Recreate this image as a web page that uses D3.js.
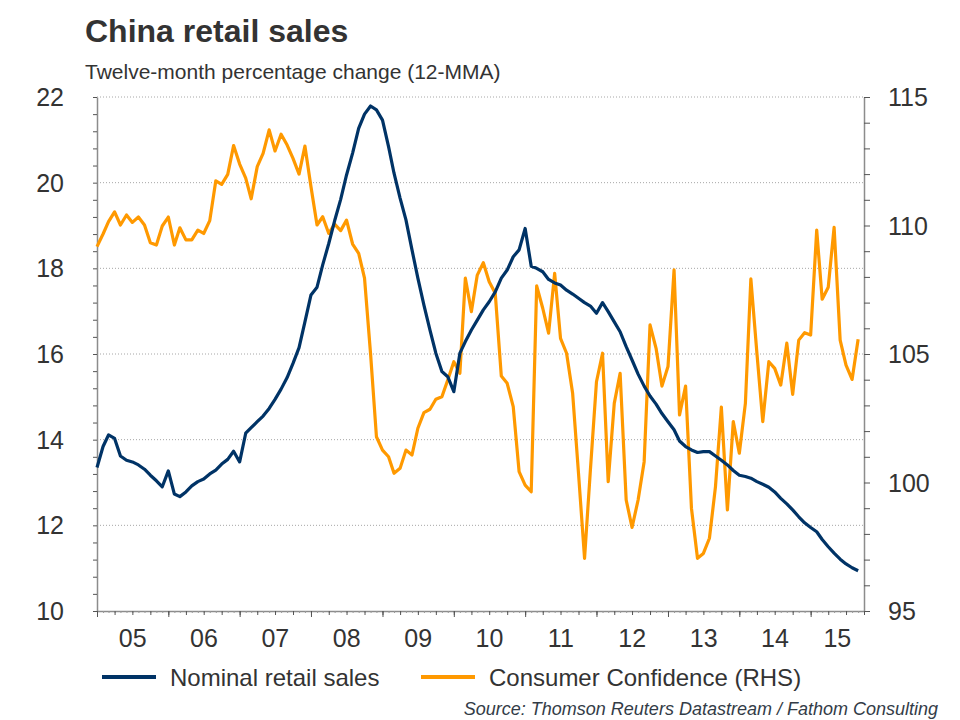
<!DOCTYPE html>
<html>
<head>
<meta charset="utf-8">
<script src="https://cdn.jsdelivr.net/npm/d3@7"></script>
<style>
  body { margin: 0; background: #fff; }
  svg { font-family: "Liberation Sans", Arial, sans-serif; }
</style>
</head>
<body>
<svg id="chart" width="960" height="720"></svg>
<script>
// monthly, Jan 2005 - Sep 2015
var retailSales = [
  13.35, 13.84, 14.11, 14.03, 13.62, 13.52, 13.48, 13.41, 13.31, 13.17, 13.04, 12.90,
  13.27, 12.73, 12.67, 12.78, 12.92, 13.02, 13.08, 13.20, 13.29, 13.43, 13.54, 13.73,
  13.48, 14.15, 14.28, 14.42, 14.55, 14.73, 14.94, 15.18, 15.45, 15.78, 16.15, 16.75,
  17.38, 17.56, 18.08, 18.58, 19.11, 19.61, 20.18, 20.69, 21.27, 21.60, 21.79, 21.70,
  21.46, 20.84, 20.22, 19.64, 19.13, 18.43, 17.77, 17.14, 16.56, 16.02, 15.59, 15.47,
  15.12, 16.02, 16.29, 16.56, 16.79, 17.03, 17.22, 17.45, 17.77, 17.96, 18.27, 18.43,
  18.93, 18.05, 18.00, 17.92, 17.74, 17.66, 17.61, 17.49, 17.40, 17.30, 17.20, 17.12,
  16.95, 17.20, 16.99, 16.75, 16.52, 16.17, 15.86, 15.53, 15.25, 15.02, 14.83, 14.61,
  14.42, 14.23, 13.97, 13.84, 13.76, 13.70, 13.72, 13.72, 13.62, 13.52, 13.41, 13.28,
  13.17, 13.14, 13.10, 13.02, 12.96, 12.89, 12.78, 12.63, 12.50, 12.36, 12.20, 12.06,
  11.95, 11.85, 11.67, 11.50, 11.35, 11.21, 11.10, 11.01, 10.94
];

var confidence = [
  109.18, 109.67, 110.15, 110.53, 110.02, 110.41, 110.12, 110.33, 110.02, 109.33, 109.24, 109.98,
  110.33, 109.24, 109.91, 109.44, 109.44, 109.82, 109.69, 110.19, 111.74, 111.60, 111.99, 113.11,
  112.39, 111.84, 111.04, 112.29, 112.81, 113.72, 112.90, 113.55, 113.13, 112.61, 112.00, 113.09,
  111.51, 110.02, 110.34, 109.69, 110.05, 109.80, 110.21, 109.28, 108.92, 107.95, 105.00, 101.78,
  101.26, 101.00, 100.36, 100.55, 101.26, 101.07, 102.11, 102.72, 102.85, 103.24, 103.34, 103.99,
  104.70, 104.25, 107.95, 106.65, 108.07, 108.55, 107.81, 107.36, 104.14, 103.86, 102.95, 100.42,
  99.90, 99.64, 107.65, 106.78, 105.81, 108.14, 105.61, 105.03, 103.47, 100.36, 97.05, 100.50,
  103.92, 105.03, 100.03, 103.08, 104.25, 99.32, 98.25, 99.32, 100.81, 106.13, 105.22, 103.75,
  104.51, 108.27, 102.63, 103.75, 99.00, 97.05, 97.24, 97.83, 99.84, 102.93, 98.93, 102.37,
  101.14, 103.08, 107.92, 105.03, 102.37, 104.70, 104.44, 103.79, 105.42, 103.43, 105.54, 105.83,
  105.74, 109.82, 107.13, 107.60, 109.93, 105.54, 104.57, 104.01, 105.57
];

var leftTicks = [10, 12, 14, 16, 18, 20, 22];
var rightTicks = [95, 100, 105, 110, 115];
var yearLabels = ["05", "06", "07", "08", "09", "10", "11", "12", "13", "14", "15"];
var seriesNames = ["Nominal retail sales", "Consumer Confidence (RHS)"];

var navy = "#003366", orange = "#ff9900", textColor = "#333333", axisColor = "#8c8c8c";

var svg = d3.select("#chart");
var plotLeft = 97, plotRight = 864, plotTop = 97, plotBottom = 611;

var start = new Date(2005, 0, 1), end = new Date(2015, 9, 1);
var months = d3.timeMonth.range(start, new Date(2015, 8, 2));

var x = d3.scaleTime()
    .domain([start, end])
    .range([plotLeft, plotRight]);

var yL = d3.scaleLinear()
    .domain([10, 22])
    .range([plotBottom, plotTop]);

var yR = d3.scaleLinear()
    .domain([95, 115])
    .range([plotBottom, plotTop]);

// title
svg.append("text")
    .attr("x", 85).attr("y", 42)
    .attr("fill", textColor)
    .style("font-size", "32px").style("font-weight", "bold")
    .text("China retail sales");

svg.append("text")
    .attr("x", 85).attr("y", 79)
    .attr("fill", textColor)
    .style("font-size", "21px")
    .text("Twelve-month percentage change (12-MMA)");

// gridlines
svg.append("g")
  .selectAll("line")
  .data(leftTicks.slice(1))
  .enter().append("line")
    .attr("x1", plotLeft).attr("x2", plotRight)
    .attr("y1", function(d){ return yL(d); })
    .attr("y2", function(d){ return yL(d); })
    .attr("stroke", "#a6a6a6")
    .attr("stroke-width", 1)
    .attr("stroke-dasharray", "1,2");

// left axis
var gL = svg.append("g")
    .attr("transform", "translate(" + plotLeft + ",0)")
    .call(d3.axisLeft(yL).tickValues(d3.range(10, 22.01, 0.4)).tickSize(4).tickSizeOuter(0).tickFormat(""));
gL.select(".domain").attr("stroke", axisColor).attr("stroke-width", 1.5);
gL.selectAll(".tick line").attr("stroke", "#555");

svg.append("g")
  .selectAll("text")
  .data(leftTicks)
  .enter().append("text")
    .attr("x", 64)
    .attr("y", function(d){ return yL(d); })
    .attr("dy", "0.36em")
    .attr("text-anchor", "end")
    .attr("fill", textColor)
    .style("font-size", "25px")
    .text(function(d){ return d; });

// right axis
var gR = svg.append("g")
    .attr("transform", "translate(" + plotRight + ",0)")
    .call(d3.axisRight(yR).ticks(20).tickSize(6).tickSizeOuter(0).tickFormat(""));
gR.select(".domain").attr("stroke", axisColor).attr("stroke-width", 1.5);
gR.selectAll(".tick line").attr("stroke", "#555");

svg.append("g")
  .selectAll("text")
  .data(rightTicks)
  .enter().append("text")
    .attr("x", 888)
    .attr("y", function(d){ return yR(d); })
    .attr("dy", "0.36em")
    .attr("fill", textColor)
    .style("font-size", "25px")
    .text(function(d){ return d; });

// x axis: month, quarter and year ticks
var gX = svg.append("g")
    .attr("transform", "translate(0," + plotBottom + ")");
gX.call(d3.axisBottom(x).ticks(d3.timeMonth.every(1)).tickSize(2).tickSizeOuter(0).tickFormat(""));
gX.select(".domain").attr("stroke", axisColor).attr("stroke-width", 1.5);
gX.selectAll(".tick line").attr("stroke", "#999");

svg.append("g")
    .attr("transform", "translate(0," + plotBottom + ")")
    .call(d3.axisBottom(x).ticks(d3.timeMonth.every(3)).tickSize(4).tickFormat(""))
    .call(function(g){ g.select(".domain").remove(); })
    .selectAll(".tick line").attr("stroke", "#555");

svg.append("g")
    .attr("transform", "translate(0," + plotBottom + ")")
    .call(d3.axisBottom(x).ticks(d3.timeYear.every(1)).tickSize(6).tickFormat(""))
    .call(function(g){ g.select(".domain").remove(); })
    .selectAll(".tick line").attr("stroke", "#555");

svg.append("g")
  .selectAll("text")
  .data(yearLabels)
  .enter().append("text")
    .attr("x", function(d, i){
      var a = new Date(2005 + i, 0, 1), b = d3.min([new Date(2006 + i, 0, 1), end]);
      return (x(a) + x(b)) / 2;
    })
    .attr("y", 647)
    .attr("text-anchor", "middle")
    .attr("fill", textColor)
    .style("font-size", "25px")
    .text(function(d){ return d; });

// lines
var lineL = d3.line()
    .x(function(d, i){ return x(months[i]); })
    .y(function(d){ return yL(d); });

var lineR = d3.line()
    .x(function(d, i){ return x(months[i]); })
    .y(function(d){ return yR(d); });

svg.append("path")
    .datum(confidence)
    .attr("d", lineR)
    .attr("fill", "none")
    .attr("stroke", orange)
    .attr("stroke-width", 3.2)
    .attr("stroke-linejoin", "round");

svg.append("path")
    .datum(retailSales)
    .attr("d", lineL)
    .attr("fill", "none")
    .attr("stroke", navy)
    .attr("stroke-width", 3.2)
    .attr("stroke-linejoin", "round");

// legend
var legend = svg.append("g")
  .selectAll("g")
  .data(seriesNames)
  .enter().append("g")
    .attr("transform", function(d, i){ return "translate(" + [102, 421][i] + ",677)"; });

legend.append("line")
    .attr("x1", 0).attr("x2", 54)
    .attr("stroke", function(d, i){ return [navy, orange][i]; })
    .attr("stroke-width", 4);

legend.append("text")
    .attr("x", 68)
    .attr("dy", "0.36em")
    .attr("fill", textColor)
    .style("font-size", "24px")
    .text(function(d){ return d; });

// source
svg.append("text")
    .attr("x", 938).attr("y", 715)
    .attr("text-anchor", "end")
    .attr("fill", "#333c47")
    .style("font-size", "18px").style("font-style", "italic")
    .text("Source: Thomson Reuters Datastream / Fathom Consulting");
</script>
</body>
</html>
